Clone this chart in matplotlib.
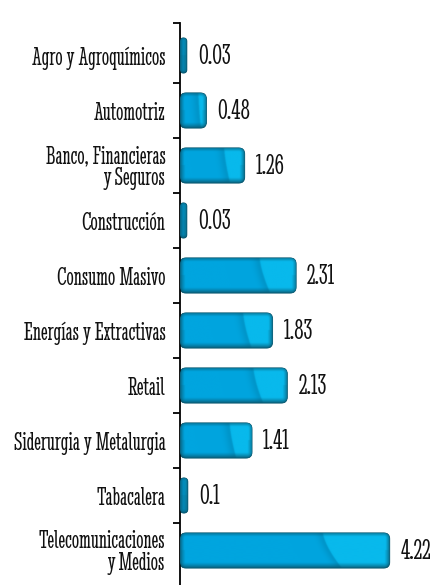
import numpy as np
import matplotlib
matplotlib.use("Agg")
import matplotlib.pyplot as plt
from matplotlib.patches import FancyBboxPatch
from matplotlib.ticker import FixedLocator, NullFormatter
import matplotlib.font_manager as fm

# ---- data ----
categories = [
    "Agro y Agroquímicos",
    "Automotriz",
    "Banco, Financieras\ny Seguros",
    "Construcción",
    "Consumo Masivo",
    "Energías y Extractivas",
    "Retail",
    "Siderurgia y Metalurgia",
    "Tabacalera",
    "Telecomunicaciones\ny Medios",
]
values = [0.03, 0.48, 1.26, 0.03, 2.31, 1.83, 2.13, 1.41, 0.1, 4.22]
value_labels = ["0.03", "0.48", "1.26", "0.03", "2.31", "1.83", "2.13", "1.41", "0.1", "4.22"]

avail = set(f.name for f in fm.fontManager.ttflist)
FONT = [f for f in ["Stint Ultra Condensed", "DejaVu Serif"] if f in avail]

W, H, DPI = 443, 585, 100
fig = plt.figure(figsize=(W / DPI, H / DPI), dpi=DPI)
fig.patch.set_facecolor("white")

XMAX = 5.2
px_per_x = 49.0
top_px = 23.0
c0_px, step_px = 55.5, 55.0
ytop = -(c0_px - top_px) / step_px
ybot = 9 + (H - (c0_px + 9 * step_px)) / step_px
ax = fig.add_axes([180 / W, 0, XMAX * px_per_x / W, (H - top_px) / H])
ax.set_xlim(0, XMAX)
ax.set_ylim(ybot, ytop)

for s in ["top", "right", "bottom"]:
    ax.spines[s].set_visible(False)
ax.spines["left"].set_linewidth(1.3)
ax.spines["left"].set_color("black")
ax.set_xticks([])

ypos = np.arange(len(categories))
ax.set_yticks(ypos)
ax.set_yticklabels(categories, family=FONT, fontsize=18.5, color="#111111",
                   ha="right", linespacing=0.92)
ax.tick_params(axis="y", which="major", length=0, pad=10.5)
minor = [ytop] + [i + 0.5 for i in range(len(categories) - 1)]
ax.yaxis.set_minor_locator(FixedLocator(minor))
ax.yaxis.set_minor_formatter(NullFormatter())
ax.tick_params(axis="y", which="minor", length=5, width=1.3, color="black", direction="out")

BAR_H = 0.64
EXTRA = 0.06
MIN_W = 0.14
base = np.array([0x00, 0xa5, 0xdf]) / 255
light = np.array([0x08, 0xb9, 0xec]) / 255
edge = np.array([0x0a, 0x58, 0x70]) / 255
y_px = step_px  # pixels per y unit


def bar_image(pw, ph, r, scale=3):
    nx = max(int(round(pw * scale)), 2)
    ny = max(int(round(ph * scale)), 2)
    X = (np.arange(nx) + 0.5) / scale
    Y = (np.arange(ny) + 0.5) / scale
    X, Y = np.meshgrid(X, Y)
    cx, cy = pw / 2, ph / 2
    qx = np.abs(X - cx) - (pw / 2 - r)
    qy = np.abs(Y - cy) - (ph / 2 - r)
    outside = np.hypot(np.maximum(qx, 0), np.maximum(qy, 0))
    inside = np.minimum(np.maximum(qx, qy), 0)
    d = -(outside + inside - r)
    fy = Y / ph
    xb = pw * (0.68 + 0.09 * fy ** 1.5)
    s = np.clip((X - xb) / 3.0 + 0.5, 0, 1)[..., None]
    col = base * (1 - s) + light * s
    shade = np.where(X < xb, np.exp(-((xb - X) / 6.0) ** 2) * 0.10, 0)[..., None]
    col = col * (1 - shade)
    bev = np.where(Y > ph / 2, 5.5, 4.5)
    t = np.clip(d / bev, 0, 1)[..., None] ** 0.7
    col = edge + (col - edge) * t
    return np.clip(col, 0, 1)


for i, (v, lab) in enumerate(zip(values, value_labels)):
    w = max(v + EXTRA, MIN_W)
    pw = w * px_per_x
    ph = BAR_H * y_px
    r_px = min(6.0, pw / 2, ph / 2)
    r = r_px / px_per_x
    aspect = (1 / y_px) / (1 / px_per_x)
    patch = FancyBboxPatch((0, i - BAR_H / 2), w, BAR_H,
                           boxstyle=f"round,pad=0,rounding_size={r}",
                           mutation_aspect=aspect,
                           facecolor=edge, edgecolor=edge, linewidth=0.6, zorder=2)
    ax.add_patch(patch)
    img = bar_image(pw, ph, r_px)
    im = ax.imshow(img, extent=(0, w, i + BAR_H / 2, i - BAR_H / 2), origin="upper",
                   aspect="auto", interpolation="bilinear", zorder=3)
    im.set_clip_path(patch)
    ax.text(w + 11 / px_per_x, i + 0.03, lab, family=FONT, fontsize=21,
            color="#111111", ha="left", va="center", zorder=4)

ax.set_xlim(0, XMAX)
ax.set_ylim(ybot, ytop)
fig.savefig("out.png", dpi=DPI, facecolor="white")
